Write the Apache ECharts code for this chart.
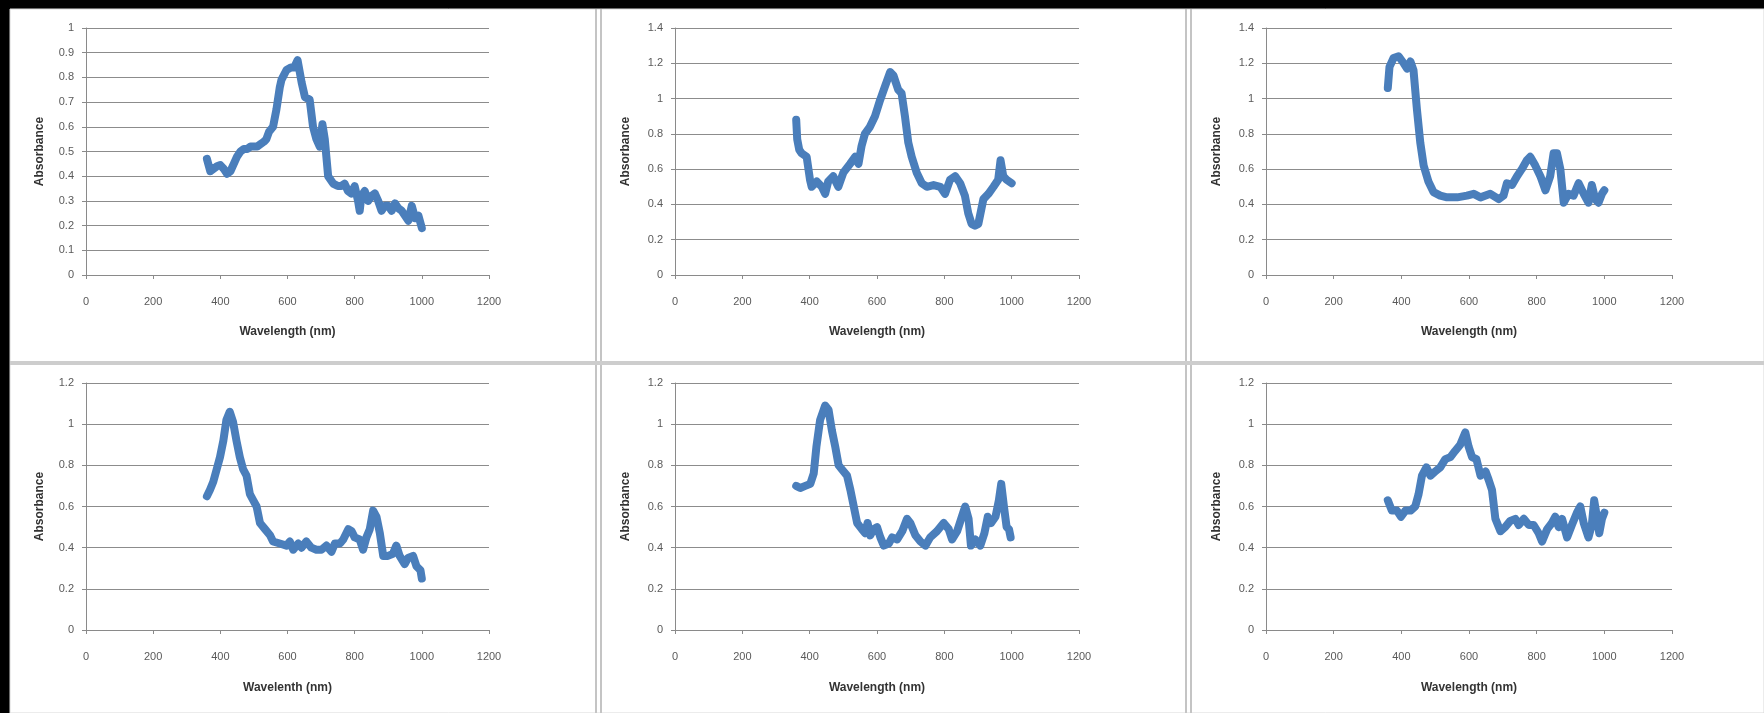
<!DOCTYPE html>
<html>
<head>
<meta charset="utf-8">
<script src="https://cdn.jsdelivr.net/npm/echarts@6/dist/echarts.min.js"></script>
<style>
html,body{margin:0;padding:0;background:#000;}
#c{width:1764px;height:713px;}
</style>
</head>
<body>
<div id="c"></div>
<script>
// ---- Data (wavelength nm, absorbance) ----
const wl1 = [360,370,380,390,400,410,420,430,440,450,460,470,480,490,500,510,520,530,537,545,557,567,577,582,597,610,620,630,642,652,666,676,686,696,704,711,721,736,750,760,770,780,790,800,810,815,820,830,840,850,860,870,880,890,900,910,920,930,940,950,960,970,980,990,1000];
const ab1 = [0.47,0.42,0.43,0.44,0.445,0.43,0.41,0.42,0.45,0.48,0.50,0.51,0.51,0.52,0.52,0.52,0.53,0.54,0.55,0.58,0.60,0.67,0.76,0.79,0.83,0.84,0.84,0.87,0.78,0.72,0.71,0.60,0.55,0.52,0.61,0.55,0.40,0.37,0.36,0.36,0.37,0.34,0.33,0.36,0.30,0.26,0.32,0.34,0.30,0.32,0.33,0.30,0.26,0.28,0.28,0.26,0.29,0.27,0.26,0.24,0.22,0.28,0.23,0.24,0.19];

const wl2 = [360,363,369,376,391,401,406,421,436,446,455,470,485,500,520,535,545,554,564,579,594,609,624,639,649,663,673,683,693,703,718,733,748,768,788,802,817,832,847,861,871,881,891,901,916,931,946,960,967,975,985,1000];
const ab2 = [0.88,0.77,0.71,0.69,0.67,0.54,0.50,0.53,0.50,0.46,0.53,0.56,0.50,0.58,0.63,0.67,0.63,0.73,0.80,0.84,0.90,0.99,1.07,1.15,1.13,1.05,1.03,0.90,0.75,0.67,0.58,0.52,0.50,0.51,0.50,0.46,0.54,0.56,0.52,0.45,0.35,0.29,0.28,0.29,0.43,0.46,0.50,0.54,0.65,0.56,0.54,0.52];

const wl3 = [360,365,377,392,407,417,427,436,446,456,466,480,495,515,535,565,594,614,634,663,688,702,712,727,742,756,771,781,796,811,826,840,850,860,870,880,894,909,924,939,953,963,973,983,993,1000];
const ab3 = [1.06,1.18,1.23,1.24,1.20,1.17,1.21,1.16,0.94,0.75,0.62,0.53,0.47,0.45,0.44,0.44,0.45,0.46,0.44,0.46,0.43,0.45,0.52,0.51,0.56,0.60,0.65,0.67,0.62,0.56,0.48,0.56,0.69,0.69,0.60,0.41,0.46,0.45,0.52,0.46,0.41,0.51,0.43,0.41,0.46,0.48];

const wl4 = [360,369,379,389,399,409,418,428,438,448,458,468,478,488,498,508,518,533,548,557,577,597,607,617,632,642,656,671,686,701,716,731,741,756,766,781,791,800,815,825,835,845,855,865,875,885,899,914,924,934,949,959,974,984,996,1000];
const ab4 = [0.65,0.68,0.72,0.78,0.84,0.92,1.02,1.06,1.01,0.92,0.84,0.78,0.75,0.66,0.63,0.60,0.52,0.49,0.46,0.43,0.42,0.41,0.43,0.39,0.42,0.40,0.43,0.40,0.39,0.39,0.41,0.38,0.42,0.42,0.44,0.49,0.48,0.45,0.44,0.39,0.45,0.49,0.58,0.55,0.47,0.36,0.36,0.37,0.41,0.36,0.32,0.35,0.36,0.31,0.29,0.25];

const wl5 = [360,372,387,402,412,420,431,446,456,466,476,486,496,511,521,531,541,555,565,572,580,590,600,610,620,635,645,660,675,689,699,714,729,744,758,778,798,813,823,838,852,862,872,879,892,907,919,929,939,952,962,969,977,985,992,997];
const ab5 = [0.70,0.69,0.70,0.71,0.76,0.89,1.02,1.09,1.07,0.97,0.89,0.80,0.78,0.75,0.68,0.60,0.52,0.49,0.47,0.52,0.46,0.49,0.50,0.45,0.41,0.42,0.45,0.44,0.48,0.54,0.52,0.46,0.43,0.41,0.45,0.48,0.52,0.49,0.44,0.48,0.55,0.60,0.54,0.41,0.44,0.41,0.47,0.55,0.52,0.55,0.63,0.71,0.60,0.50,0.49,0.45];

const wl6 = [360,372,387,399,412,427,441,451,461,474,486,500,515,530,545,559,574,589,599,609,622,634,649,658,668,678,693,707,722,737,747,762,777,791,806,816,831,845,855,865,875,890,904,919,929,939,953,963,970,978,985,993,1000];
const ab6 = [0.63,0.58,0.58,0.55,0.58,0.58,0.60,0.66,0.75,0.79,0.75,0.77,0.79,0.83,0.84,0.87,0.90,0.96,0.89,0.84,0.83,0.75,0.77,0.73,0.68,0.54,0.48,0.50,0.53,0.54,0.51,0.54,0.51,0.51,0.47,0.43,0.49,0.52,0.55,0.50,0.54,0.45,0.51,0.57,0.60,0.52,0.45,0.51,0.63,0.55,0.47,0.54,0.57];

const yMaxes = [1, 1.4, 1.4, 1.2, 1.2, 1.2];
const yIntervals = [0.1, 0.2, 0.2, 0.2, 0.2, 0.2];
const xTicks = [0, 1200, 200]; // min, max, interval
const xNames = ['Wavelength (nm)','Wavelength (nm)','Wavelength (nm)','Wavelenth (nm)','Wavelength (nm)','Wavelength (nm)'];
const yName = 'Absorbance';
const seriesWl = [wl1, wl2, wl3, wl4, wl5, wl6];
const seriesAb = [ab1, ab2, ab3, ab4, ab5, ab6];

// ---- Layout ----
const gridBoxes = [
  {left:86,  top:28,  width:403, height:247},
  {left:675, top:28,  width:404, height:247},
  {left:1266,top:28,  width:406, height:247},
  {left:86,  top:383, width:403, height:247},
  {left:675, top:383, width:404, height:247},
  {left:1266,top:383, width:406, height:247}
];

const FONT = '"Liberation Sans", Arial, sans-serif';
const grid = [], xAxis = [], yAxis = [], series = [];
for (let i = 0; i < 6; i++) {
  grid.push(Object.assign({containLabel:false}, gridBoxes[i]));
  xAxis.push({
    type:'value', gridIndex:i, min:xTicks[0], max:xTicks[1], interval:xTicks[2],
    name:xNames[i], nameLocation:'middle', nameGap:(i<3?51:52),
    nameTextStyle:{fontFamily:FONT,fontSize:12,fontWeight:'bold',color:'#333'},
    axisLine:{show:true,onZero:false,lineStyle:{color:'#8a8a8a',width:1}},
    axisTick:{show:true,length:4,lineStyle:{color:'#8a8a8a'}},
    axisLabel:{fontFamily:FONT,fontSize:11,color:'#5a5a5a',margin:21,formatter:v => String(v)},
    splitLine:{show:false}
  });
  yAxis.push({
    type:'value', gridIndex:i, min:0, max:yMaxes[i], interval:yIntervals[i],
    name:yName, nameLocation:'middle', nameRotate:90, nameGap:(i%3===0?40:43),
    nameTextStyle:{fontFamily:FONT,fontSize:12,fontWeight:'bold',color:'#333'},
    axisLine:{show:true,lineStyle:{color:'#8a8a8a',width:1}},
    axisTick:{show:true,length:4,lineStyle:{color:'#8a8a8a'}},
    axisLabel:{fontFamily:FONT,fontSize:11,color:'#5a5a5a',margin:12},
    splitLine:{show:true,lineStyle:{color:'#8c8c8c',width:1}}
  });
  series.push({
    type:'line', xAxisIndex:i, yAxisIndex:i, showSymbol:false, silent:true,
    data: seriesWl[i].map((w, k) => [w, seriesAb[i][k]]),
    lineStyle:{color:'#4a7ebb', width:8, join:'round', cap:'round'},
    animation:false
  });
}

const chart = echarts.init(document.getElementById('c'), null, {renderer:'canvas'});
chart.setOption({
  backgroundColor:'#000',
  animation:false,
  graphic:[
    {type:'rect', z:-10, silent:true, shape:{x:10,y:9,width:1754,height:704}, style:{fill:'#ffffff', stroke:'#d8d8d8', lineWidth:1}},
    {type:'rect', z:-9, silent:true, shape:{x:595,y:9,width:2,height:704}, style:{fill:'#c4c4c4'}},
    {type:'rect', z:-9, silent:true, shape:{x:600,y:9,width:2,height:704}, style:{fill:'#c4c4c4'}},
    {type:'rect', z:-9, silent:true, shape:{x:1185,y:9,width:2,height:704}, style:{fill:'#c4c4c4'}},
    {type:'rect', z:-9, silent:true, shape:{x:1190,y:9,width:2,height:704}, style:{fill:'#c4c4c4'}},
    {type:'rect', z:-8, silent:true, shape:{x:10,y:361,width:1754,height:4}, style:{fill:'#cdcdcd'}}
  ],
  grid, xAxis, yAxis, series
});
</script>
</body>
</html>
